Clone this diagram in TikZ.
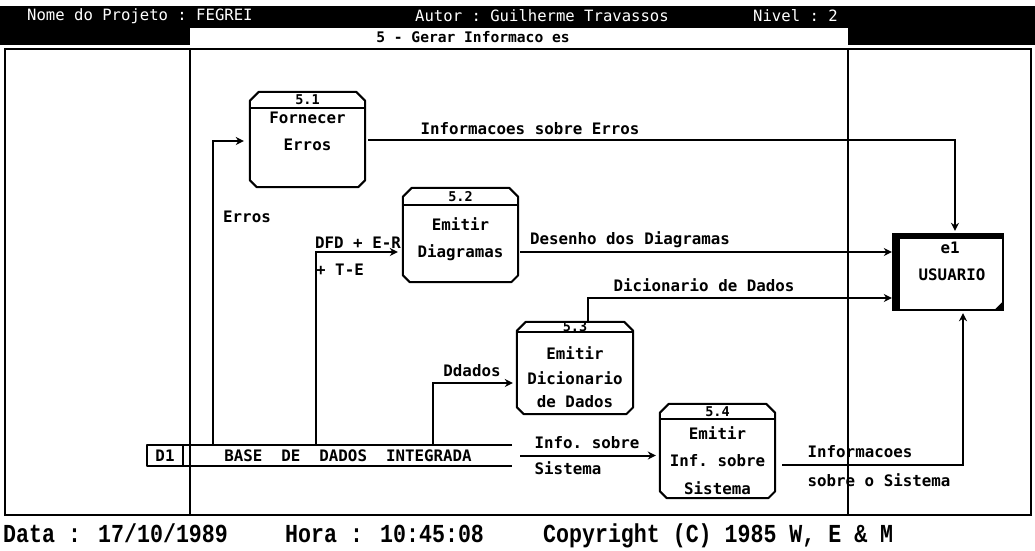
\documentclass[tikz,border=0pt]{standalone}
\usepackage{fontspec}
\setmonofont{DejaVu Sans Mono}
\newfontfamily\footfont{Liberation Mono}
\usetikzlibrary{arrows.meta}
\tikzset{
 txt/.style={font=\ttfamily\bfseries\fontsize{15.8}{16}\selectfont, inner sep=0pt},
 hdr/.style={font=\ttfamily\bfseries\fontsize{13.5}{13}\selectfont, inner sep=0pt},
 toptxt/.style={font=\ttfamily\fontsize{15.6}{16}\selectfont, inner sep=0pt, text=white, anchor=west},
 titletxt/.style={font=\ttfamily\bfseries\fontsize{14.6}{15}\selectfont, inner sep=0pt},
 foot/.style={font=\footfont\bfseries\fontsize{21.6}{22}\selectfont, inner sep=0pt, anchor=base west},
 boxline/.style={line width=2pt, line join=round},
 procnode/.style={draw=none, inner sep=0pt, rectangle},
 flow/.style={line width=2pt, -{Stealth[length=8pt,width=8pt]}},
 frameline/.style={line width=2pt},
}
\newcommand\procoutline[2]{%
  \draw[boxline] ([yshift=-9pt]#1.north west) -- ([xshift=9pt]#1.north west) -- ([xshift=-9pt]#1.north east) -- ([yshift=-9pt]#1.north east) -- ([yshift=7pt]#1.south east) -- ([xshift=-7pt]#1.south east) -- ([xshift=7pt]#1.south west) -- ([yshift=7pt]#1.south west) -- cycle;
  \draw[boxline] ([yshift=-#2]#1.north west) -- ([yshift=-#2]#1.north east);}
\begin{document}
\begin{tikzpicture}[x=1pt,y=-1pt]
\useasboundingbox (0,0) rectangle (1035,550);
\fill[white] (0,0) rectangle (1035,550);
% top band
\fill[black] (0,6) rectangle (1035,45);
\fill[white] (190,28) rectangle (848,45);
\node[toptxt] (tprj) at (27,16) {Nome do Projeto : FEGREI};
\node[toptxt] (taut) at (415,16) {Autor : Guilherme Travassos};
\node[toptxt] (tniv) at (753,16) {Nivel : 2};
\node[titletxt] (title) at (473,37) {5 - Gerar Informaco es};
% frame
\draw[frameline] (5,49) rectangle (1031,515);
\draw[frameline] (190,49) -- (190,515);
\draw[frameline] (848,49) -- (848,515);
% processes
\node[procnode, minimum width=115pt, minimum height=95pt] (p1) at (307.5,139.5) {};
\node[procnode, minimum width=115pt, minimum height=94pt] (p2) at (460.5,235) {};
\node[procnode, minimum width=116pt, minimum height=92pt] (p3) at (575,368) {};
\node[procnode, minimum width=115pt, minimum height=94pt] (p4) at (717.5,451) {};
\procoutline{p1}{16pt}
\procoutline{p2}{17pt}
\procoutline{p3}{10pt}
\procoutline{p4}{15pt}
\node[hdr] (p1h) at (307.5,100) {5.1};
\node[txt] (p1a) at (307.5,118) {Fornecer};
\node[txt] (p1b) at (307.5,145) {Erros};
\node[hdr] (p2h) at (460.5,197) {5.2};
\node[txt] (p2a) at (460.5,224) {Emitir};
\node[txt] (p2b) at (460.5,253) {Diagramas};
\node[hdr] (p3h) at (575,327) {5.3};
\node[txt] (p3a) at (575,353) {Emitir};
\node[txt] (p3b) at (575,378) {Dicionario};
\node[txt] (p3c) at (575,402) {de Dados};
\node[hdr] (p4h) at (717.5,412) {5.4};
\node[txt] (p4a) at (717.5,433) {Emitir};
\node[txt] (p4b) at (717.5,461) {Inf. sobre};
\node[txt] (p4c) at (717.5,488) {Sistema};
% store
\node[inner sep=0pt, minimum width=365pt, minimum height=21pt] (store) at (329.5,455.5) {};
\draw[boxline] (store.north east) -- (store.north west) -- (store.south west) -- (store.south east);
\draw[boxline] ([xshift=36pt]store.north west) -- ([xshift=36pt]store.south west);
\node[txt] (d1) at (165,456) {D1};
\node[txt] (dbname) at (348,456) {BASE\ \ DE\ \ DADOS\ \ INTEGRADA};
% external entity
\node[inner sep=0pt, minimum width=110pt, minimum height=76pt] (e1) at (948,272) {};
\draw[line width=2.5pt] (e1.north west) rectangle (e1.south east);
\fill ([yshift=1pt]e1.north west) rectangle ([xshift=7pt,yshift=-1pt]e1.south west);
\fill ([xshift=-1pt]e1.north west) rectangle ([yshift=-5pt]e1.north east);
\fill ([yshift=9pt]e1.south east) -- (e1.south east) -- ([xshift=-9pt]e1.south east) -- cycle;
\node[txt] (e1a) at (950,248) {e1};
\node[txt] (e1b) at (952,275) {USUARIO};
% flows
\draw[flow, shorten >=6pt] ([xshift=66pt]store.north west) |- ([yshift=-1.5pt]p1.west);
\draw[flow, shorten <=3pt, shorten >=3pt] (p1.east) -| ([xshift=7pt]e1.north);
\draw[flow, shorten >=5pt] ([xshift=169pt]store.north west) |- ([yshift=-17pt]p2.west);
\draw[flow, shorten <=2pt, shorten >=1pt] ([yshift=-17pt]p2.east) -- ([yshift=-17pt]p2.east -| e1.west);
\draw[flow, shorten >=4pt] ([xshift=286pt]store.north west) |- ([yshift=-15pt]p3.west);
\draw[flow, shorten >=1pt] ([xshift=13pt]p3.north) |- ([yshift=-26pt]e1.west);
\draw[flow, shorten >=4pt] ([xshift=8pt]store.east) -- (store.east -| p4.west);
\draw[flow, shorten <=7pt, shorten >=3pt] ([yshift=-14pt]p4.east) -| ([xshift=15pt]e1.south);
% labels
\node[txt] (l1) at (530,129) {Informacoes sobre Erros};
\node[txt] (l2) at (247,217) {Erros};
\node[txt] (l3) at (358,243) {DFD + E-R};
\node[txt] (l4) at (340,270) {+ T-E};
\node[txt] (l5) at (630,240) {Desenho dos Diagramas};
\node[txt] (l6) at (704,285) {Dicionario de Dados};
\node[txt] (l7) at (472,371) {Ddados};
\node[txt] (l8) at (587,443) {Info. sobre};
\node[txt] (l9) at (568,468) {Sistema};
\node[txt] (l10) at (860,452) {Informacoes};
\node[txt] (l11) at (879,480) {sobre o Sistema};
% footer
\node[foot] (fdata) at (3,542) {\scalebox{1}[1.2]{Data : 17/10/1989}};
\node[foot] (fhora) at (285,542) {\scalebox{1}[1.2]{Hora : 10:45:08}};
\node[foot] (fcopy) at (543,542) {\scalebox{1}[1.2]{Copyright (C) 1985 W, E \& M}};
\end{tikzpicture}
\end{document}
